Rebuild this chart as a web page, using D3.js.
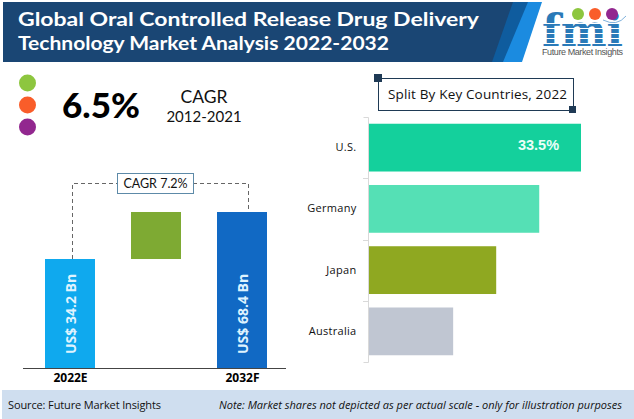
<!DOCTYPE html>
<html>
  <head>
    <title>Oral Controlled Release Drug Delivery</title>
    <meta http-equiv="content-type" content="text/html; charset=UTF8">
    <script src="https://cdn.jsdelivr.net/npm/d3@7/dist/d3.min.js"></script>
    <style type="text/css">
      html, body { margin: 0; padding: 0; background: #fff; }
      svg { display: block; }
      .x-axis path { stroke: #444; }
      .x-axis line { display: none; }
      .x-axis text { font: bold 12px "Open Sans"; fill: #000; }
      .y-axis path, .y-axis line { stroke: #d9d9d9; }
      .y-axis text { font: 11px "Open Sans"; fill: #111; letter-spacing: 0.3px; }
    </style>
  </head>
  <body>
    <script>
      var titleLines = ["Global Oral Controlled Release Drug Delivery",
                        "Technology Market Analysis 2022-2032"];
      var titleWidths = [461, 371];
      var years = ["2022E", "2032F"];
      var marketValues = [34.2, 68.4];
      var marketLabels = ["US$ 34.2 Bn", "US$ 68.4 Bn"];
      var countries = ["U.S.", "Germany", "Japan", "Australia"];
      var shares = [33.5, 26.9, 20.1, 13.3];
      var shareLabels = ["33.5%", "", "", ""];
      var dotColors = ["#8dc63f", "#f95d2a", "#92278f"];
      var countryColors = ["#14d09c", "#55e0b5", "#8fa821", "#c0c6d2"];

      var svg = d3.select("body").append("svg")
        .attr("width", 634)
        .attr("height", 419);

      var fade = svg.append("defs").append("linearGradient").attr("id", "fade");
      fade.append("stop").attr("offset", "0").attr("stop-color", "#777").attr("stop-opacity", 0.1);
      fade.append("stop").attr("offset", "0.5").attr("stop-color", "#777").attr("stop-opacity", 1);
      fade.append("stop").attr("offset", "1").attr("stop-color", "#777").attr("stop-opacity", 0.1);

      // header band, slanted stripes at its right end
      svg.append("path").attr("d", "M3 2H542L522 62H3Z").attr("fill", "#1b8be0");
      svg.append("path").attr("d", "M3 2H528L503 62H3Z").attr("fill", "#0f5c9e");
      svg.append("path").attr("d", "M3 2H513L492 62H3Z").attr("fill", "#1a4674");

      svg.selectAll(".title").data(titleLines).enter().append("text")
        .attr("x", 18)
        .attr("y", function(d, i) { return 26 + i * 24; })
        .attr("font-family", "Lato")
        .attr("font-weight", 700)
        .attr("font-size", 19.5)
        .attr("textLength", function(d, i) { return titleWidths[i]; })
        .attr("lengthAdjust", "spacingAndGlyphs")
        .attr("fill", "#fff")
        .text(function(d) { return d; });

      // logo
      var logo = svg.append("g");
      logo.append("text")
        .attr("x", 542).attr("y", 46)
        .attr("font-family", "DejaVu Serif")
        .attr("font-weight", 700)
        .attr("font-size", 44)
        .attr("textLength", 81)
        .attr("lengthAdjust", "spacingAndGlyphs")
        .attr("fill", "#2a7ab8")
        .text("fmi");
      d3.range(5).forEach(function(i) {
        logo.append("rect").attr("x", 540).attr("y", 23 + i * 5).attr("width", 86).attr("height", 1).attr("fill", "#fff");
      });
      logo.selectAll("circle").data(dotColors).enter().append("circle")
        .attr("cx", function(d, i) { return 578 + i * 17; })
        .attr("cy", 14)
        .attr("r", 6)
        .attr("fill", function(d) { return d; });
      logo.append("path")
        .attr("d", "M603 20Q617 27 626 16")
        .attr("fill", "none")
        .attr("stroke", "#7fb2dc")
        .attr("stroke-width", 1);
      logo.append("text")
        .attr("x", 542).attr("y", 55)
        .attr("font-family", "Liberation Sans")
        .attr("font-size", 9)
        .attr("textLength", 81)
        .attr("fill", "#555")
        .text("Future Market Insights");

      // cagr block
      svg.selectAll(".dot").data(dotColors).enter().append("circle")
        .attr("cx", 27.5)
        .attr("cy", function(d, i) { return 83 + i * 22; })
        .attr("r", 8.5)
        .attr("fill", function(d) { return d; });
      svg.append("text")
        .attr("x", 62).attr("y", 118)
        .attr("font-family", "Lato")
        .attr("font-weight", 900)
        .attr("font-size", 35)
        .attr("fill", "#000")
        .text("6.5%");
      svg.append("text")
        .attr("x", 204).attr("y", 103)
        .attr("text-anchor", "middle")
        .attr("font-family", "Lato")
        .attr("font-size", 17.5)
        .attr("fill", "#111")
        .text("CAGR");
      svg.append("text")
        .attr("x", 204).attr("y", 122)
        .attr("text-anchor", "middle")
        .attr("font-family", "Lato")
        .attr("font-size", 15)
        .attr("fill", "#111")
        .text("2012-2021");

      svg.append("line")
        .attr("x1", 0).attr("x2", 303)
        .attr("y1", 157.5).attr("y2", 157.5)
        .attr("stroke", "url(#fade)")
        .attr("stroke-dasharray", "4 2");

      // market bars, left
      var x = d3.scalePoint().domain(years).range([70, 242]);
      // axis does not start at zero, source says not to scale
      var y = d3.scaleLinear().domain([-45.1, 68.4]).range([368, 212]);
      var barW = 50;

      svg.append("g")
        .attr("class", "x-axis")
        .attr("transform", "translate(0,368)")
        .call(d3.axisBottom(x).tickSize(0).tickPadding(5))
        .call(function(g) { g.select(".domain").attr("d", "M23 0.5H286"); });

      svg.selectAll(".market").data(marketValues).enter().append("rect")
        .attr("x", function(d, i) { return x(years[i]) - barW / 2; })
        .attr("y", function(d) { return y(d); })
        .attr("width", barW)
        .attr("height", function(d) { return 368 - y(d); })
        .attr("fill", function(d, i) { return ["#0fa9ee", "#1169c4"][i]; });

      // green step between the two
      svg.append("rect")
        .attr("x", (x(years[0]) + x(years[1])) / 2 - barW / 2)
        .attr("y", y(marketValues[1]))
        .attr("width", barW)
        .attr("height", y(marketValues[0]) - y(marketValues[1]))
        .attr("fill", "#7eaa33");

      svg.selectAll(".market-label").data(marketLabels).enter().append("text")
        .attr("transform", function(d, i) { return "translate(" + (x(years[i]) + 6) + ",354) rotate(-90)"; })
        .attr("font-family", "Open Sans")
        .attr("font-weight", 700)
        .attr("font-size", 14)
        .attr("fill", "#dff3ff")
        .text(function(d) { return d; });

      svg.append("path")
        .attr("d", "M72.5 259V183.5H248.5V212")
        .attr("fill", "none")
        .attr("stroke", "#666")
        .attr("stroke-dasharray", "4 3");
      svg.append("rect")
        .attr("x", 117.5).attr("y", 173.5)
        .attr("width", 76).attr("height", 20)
        .attr("fill", "#fff")
        .attr("stroke", "#5d8aa8");
      svg.append("text")
        .attr("x", 155.5).attr("y", 188)
        .attr("text-anchor", "middle")
        .attr("font-family", "Lato")
        .attr("font-size", 12.5)
        .attr("fill", "#111")
        .text("CAGR 7.2%");

      // country bars, right
      var yc = d3.scaleBand().domain(countries).range([117, 362]).paddingInner(0.22).paddingOuter(0.11);
      var xc = d3.scaleLinear().domain([0, 33.5]).range([369, 581]);

      svg.append("g")
        .attr("class", "y-axis")
        .attr("transform", "translate(368.5,0)")
        .call(d3.axisLeft(yc).tickSize(0).tickPadding(12))
        .call(function(g) { g.select(".domain").attr("d", "M-5 117.5H0V362.5H-5"); });

      svg.selectAll(".tick-mark").data(countries.slice(1)).enter().append("line")
        .attr("x1", 363).attr("x2", 368)
        .attr("y1", function(d) { return Math.round(yc(d) - yc.step() * yc.paddingInner() / 2) + 0.5; })
        .attr("y2", function(d) { return Math.round(yc(d) - yc.step() * yc.paddingInner() / 2) + 0.5; })
        .attr("stroke", "#d9d9d9");

      svg.selectAll(".share").data(shares).enter().append("rect")
        .attr("x", xc(0))
        .attr("y", function(d, i) { return yc(countries[i]); })
        .attr("width", function(d) { return xc(d) - xc(0); })
        .attr("height", yc.bandwidth())
        .attr("fill", function(d, i) { return countryColors[i]; });

      svg.selectAll(".share-label").data(shareLabels).enter().append("text")
        .attr("x", 538.5)
        .attr("y", function(d, i) { return yc(countries[i]) + 26; })
        .attr("text-anchor", "middle")
        .attr("font-family", "Liberation Sans")
        .attr("font-weight", 700)
        .attr("font-size", 14.5)
        .attr("fill", "#eafff8")
        .text(function(d) { return d; });

      svg.append("rect")
        .attr("x", 378.5).attr("y", 78.5)
        .attr("width", 195).attr("height", 32)
        .attr("fill", "#fff")
        .attr("stroke", "#1f3a55");
      svg.append("rect").attr("x", 374).attr("y", 74).attr("width", 8).attr("height", 8).attr("fill", "#1f3a55");
      svg.append("rect").attr("x", 569).attr("y", 106).attr("width", 7).attr("height", 7).attr("fill", "#1f3a55");
      svg.append("text")
        .attr("x", 388).attr("y", 99)
        .attr("font-family", "Open Sans")
        .attr("font-size", 13.5)
        .attr("textLength", 179)
        .attr("fill", "#111")
        .text("Split By Key Countries, 2022");

      // footer
      svg.append("rect")
        .attr("x", 2).attr("y", 390)
        .attr("width", 632).attr("height", 29)
        .attr("fill", "#cfdeef");
      svg.append("text")
        .attr("x", 8).attr("y", 409)
        .attr("font-family", "Open Sans")
        .attr("font-size", 11)
        .attr("textLength", 153)
        .attr("fill", "#111")
        .text("Source: Future Market Insights");
      svg.append("text")
        .attr("x", 219).attr("y", 409)
        .attr("font-family", "Open Sans")
        .attr("font-style", "italic")
        .attr("font-size", 11)
        .attr("textLength", 403)
        .attr("fill", "#111")
        .text("Note: Market shares not depicted as per actual scale - only for illustration purposes");
    </script>
  </body>
</html>
